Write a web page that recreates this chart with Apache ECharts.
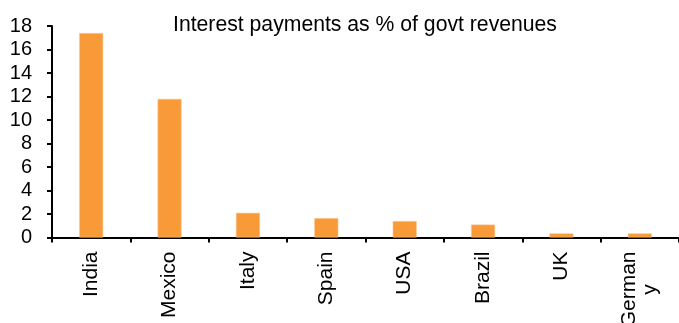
<!DOCTYPE html>
<html>
<head>
<meta charset="utf-8">
<script src="https://cdn.jsdelivr.net/npm/echarts@6/dist/echarts.min.js"></script>
<style>
  html, body { margin: 0; padding: 0; background: #fff; }
  #chart { width: 679px; height: 323px; }
</style>
</head>
<body>
<div id="chart"></div>
<script>
// Interest payments as a share of government revenues, by country
const countries = ['India', 'Mexico', 'Italy', 'Spain', 'USA', 'Brazil', 'UK', 'Germany'];
const interestShare = [17.4, 11.8, 2.1, 1.65, 1.4, 1.1, 0.35, 0.35];
const yTicks = [0, 2, 4, 6, 8, 10, 12, 14, 16, 18];

const FONT = '"Liberation Sans", Arial, sans-serif';

const chart = echarts.init(document.getElementById('chart'), null, { renderer: 'canvas' });

chart.setOption({
  animation: false,
  backgroundColor: '#ffffff',
  title: {
    text: 'Interest payments as % of govt revenues',
    left: 360,
    top: 10,
    textAlign: 'center',
    textStyle: { fontFamily: FONT, fontSize: 21.2, fontWeight: 'normal', color: '#000' }
  },
  grid: {
    left: 52,
    right: 0,
    top: 26,
    bottom: 85.5,
    containLabel: false,
    outerBoundsMode: 'none'
  },
  xAxis: {
    type: 'category',
    data: countries,
    axisLine: { lineStyle: { color: '#000', width: 2 } },
    axisTick: { show: true, length: 5, lineStyle: { color: '#000', width: 2 } },
    axisLabel: {
      rotate: 90,
      margin: 14,
      interval: 0,
      fontFamily: FONT,
      fontSize: 21,
      color: '#000',
      // long names wrap after six letters, each line centred
      formatter: function (name) {
        if (name.length > 6) {
          return '{c|' + name.slice(0, 6) + '}\n{c|' + name.slice(6) + '}';
        }
        return name;
      },
      rich: {
        c: { align: 'center', fontFamily: FONT, fontSize: 21, color: '#000' }
      }
    },
    splitLine: { show: false }
  },
  yAxis: {
    type: 'value',
    min: yTicks[0],
    max: yTicks[yTicks.length - 1],
    interval: yTicks[1] - yTicks[0],
    axisLine: { show: true, lineStyle: { color: '#000', width: 2 } },
    axisTick: { show: true, length: 5, lineStyle: { color: '#000', width: 2 } },
    axisLabel: { margin: 20, fontFamily: FONT, fontSize: 20, color: '#000' },
    splitLine: { show: false }
  },
  series: [{
    type: 'bar',
    data: interestShare,
    barWidth: 24,
    itemStyle: { color: '#F89A38', borderColor: '#FBC48E', borderWidth: 0.6 }
  }]
});
</script>
</body>
</html>
